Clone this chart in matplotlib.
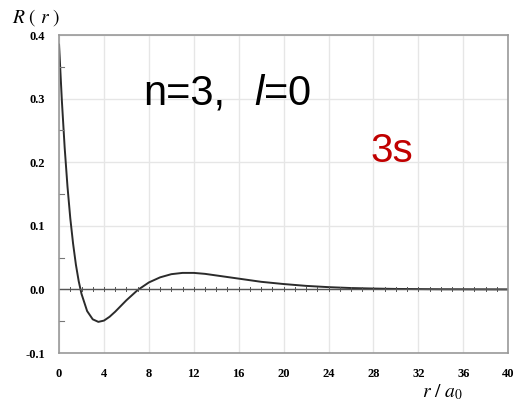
import matplotlib.pyplot as plt

plt.rcParams['mathtext.fontset'] = 'custom'
plt.rcParams['mathtext.rm'] = 'Liberation Sans'
plt.rcParams['mathtext.it'] = 'Liberation Sans:italic'

# ===== Data (3s radial function) =====
r = [0, 0.25, 0.5, 0.75, 1, 1.25, 1.5, 1.75, 2, 2.5, 3, 3.5, 4, 4.5, 5, 5.5, 6,
     6.5, 7, 7.5, 8, 9, 10, 11, 12, 13, 14, 16, 18, 20, 22, 24, 26, 28, 30,
     34, 40]
R = [0.385, 0.297, 0.223, 0.162, 0.112, 0.072, 0.039, 0.013, -0.007, -0.034,
     -0.047, -0.051, -0.049, -0.043, -0.035, -0.026, -0.017, -0.009, -0.001,
     0.005, 0.011, 0.019, 0.024, 0.026, 0.026, 0.0245, 0.022, 0.017, 0.012,
     0.0085, 0.0056, 0.0036, 0.0022, 0.0014, 0.0008, 0.0003, 0.00005]

x_ticks = [0, 4, 8, 12, 16, 20, 24, 28, 32, 36, 40]
y_ticks = [-0.1, 0.0, 0.1, 0.2, 0.3, 0.4]

fig = plt.figure(figsize=(5.18, 4.03), dpi=100)
ax = fig.add_axes([0.114, 0.124, 0.867, 0.789])

# ===== Curve =====
ax.plot(r, R, color='#2b2b2b', lw=1.4)

ax.set_xlim(0, 40)
ax.set_ylim(-0.1, 0.4)
ax.set_xticks(x_ticks)
ax.set_yticks(y_ticks)
ax.set_xticklabels([str(t) for t in x_ticks], family='Liberation Serif',
                   weight='bold', fontsize=9)
ax.set_yticklabels([f"{t:.1f}" for t in y_ticks], family='Liberation Serif',
                   weight='bold', fontsize=9)
ax.tick_params(axis='x', length=0, pad=11)
ax.tick_params(axis='y', length=0, pad=10)
ax.grid(True, color='#e6e6e6', lw=1)
ax.set_axisbelow(True)

for s in ax.spines.values():
    s.set_color('#999999')
    s.set_linewidth(1.2)

# zero line with small crossing ticks
ax.axhline(0, color='#555555', lw=1)
for xt in range(1, 40):
    ax.plot([xt, xt], [-0.002, 0.004], color='#555555', lw=0.7)
# minor ticks on left axis
for yt in [-0.05, 0.05, 0.15, 0.25, 0.35]:
    ax.plot([0, 0.4], [yt, yt], color='#777777', lw=0.8, clip_on=False)

# ===== Texts =====
fig.text(0.023, 0.943, r'$R\ (\ r\ )$', fontsize=14, ha='left',
         va='baseline', math_fontfamily='stix')
fig.text(0.814, 0.015, r'$r\ /\ a_{\mathrm{0}}$', fontsize=14, ha='left',
         va='baseline', math_fontfamily='stix')

fig.text(0.276, 0.7395, 'n=3,', family='Liberation Sans', fontsize=30,
         ha='left', va='baseline')
fig.text(0.490, 0.7395, r'$\mathit{l}$=0', family='Liberation Sans',
         fontsize=30, ha='left', va='baseline')
fig.text(0.716, 0.598, '3s', family='Liberation Sans', fontsize=29,
         color='#c00000', ha='left', va='baseline')

fig.savefig('out.png', dpi=100)
